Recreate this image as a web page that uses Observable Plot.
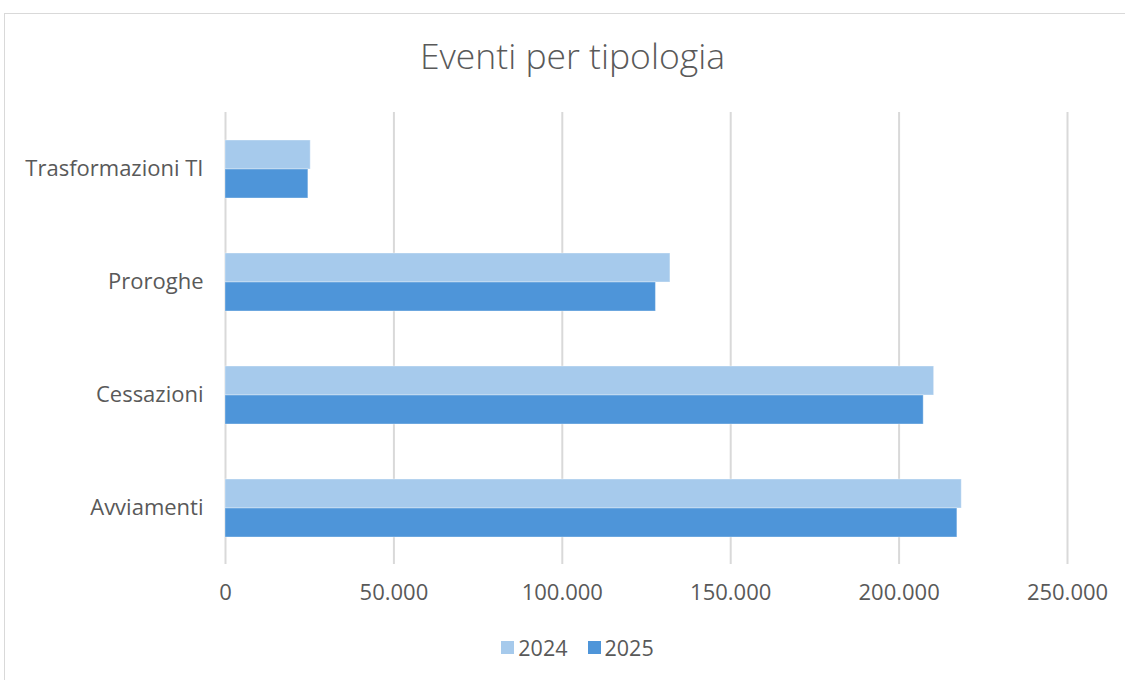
<!DOCTYPE html>
<html>
<head>
<meta charset="utf-8">
<script src="https://cdn.jsdelivr.net/npm/d3@7"></script>
<script src="https://cdn.jsdelivr.net/npm/@observablehq/plot@0.6"></script>
<style>
  html, body { margin: 0; padding: 0; background: #fff; width: 1125px; height: 680px; overflow: hidden; }
  body { position: relative; font-family: "Open Sans", "Liberation Sans", sans-serif; color: #595959; }
  #frame { position: absolute; left: 4px; top: 13px; width: 1130px; height: 680px; border: 1px solid #d9d9d9; box-sizing: border-box; }
  #title { position: absolute; left: 0; width: 1145px; top: 31px; text-align: center; font-size: 35.5px; font-weight: 300; color: #595959; }
  #chart { position: absolute; left: 0; top: 100px; }
  #legend { position: absolute; top: 633px; left: 0; width: 1155px; display: flex; justify-content: center; gap: 20px; font-size: 21.5px; color: #595959; }
  .item { display: flex; align-items: center; gap: 4px; }
  .sw { width: 13px; height: 13px; display: inline-block; }
</style>
</head>
<body>
<div id="frame"></div>
<div id="title">Eventi per tipologia</div>
<div id="chart"></div>
<div id="legend"></div>
<script>
const categories = ["Trasformazioni TI", "Proroghe", "Cessazioni", "Avviamenti"];
const years = ["2024", "2025"];
const values2024 = [25300, 132100, 210400, 218600];
const values2025 = [24600, 127800, 207300, 217300];
const xTicks = [0, 50000, 100000, 150000, 200000, 250000];
const colors = ["#a6caec", "#4e95d9"];

const data = [];
categories.forEach((c, i) => {
  data.push({category: c, year: years[0], value: values2024[i]});
  data.push({category: c, year: years[1], value: values2025[i]});
});

const fmt = d => d3.format(",")(d).replace(/,/g, ".");

const chart = Plot.plot({
  width: 1125,
  height: 520,
  marginLeft: 225,
  marginRight: 58,
  marginTop: 11,
  marginBottom: 55,
  style: {fontFamily: "'Open Sans', 'Liberation Sans', sans-serif", fontSize: "22px", color: "#595959", background: "transparent"},
  x: {domain: [0, 250000], ticks: xTicks, tickFormat: fmt, tickSize: 0, tickPadding: 20, label: null},
  fy: {domain: categories, padding: 0, label: null, tickSize: 0, tickPadding: 22, axis: "left"},
  y: {domain: years, paddingInner: 0, paddingOuter: 0.924, axis: null},
  color: {domain: years, range: colors},
  marks: [
    Plot.ruleX(xTicks, {stroke: "#d9d9d9", strokeWidth: 2}),
    Plot.barX(data, {x: "value", y: "year", fy: "category", fill: "year", stroke: "#ffffff", strokeOpacity: 0.35, strokeWidth: 1})
  ]
});
document.getElementById("chart").appendChild(chart);

const legend = document.getElementById("legend");
years.forEach((y, i) => {
  const item = document.createElement("div");
  item.className = "item";
  const sw = document.createElement("span");
  sw.className = "sw";
  sw.style.background = colors[i];
  const t = document.createElement("span");
  t.textContent = y;
  item.appendChild(sw);
  item.appendChild(t);
  legend.appendChild(item);
});
</script>
</body>
</html>
